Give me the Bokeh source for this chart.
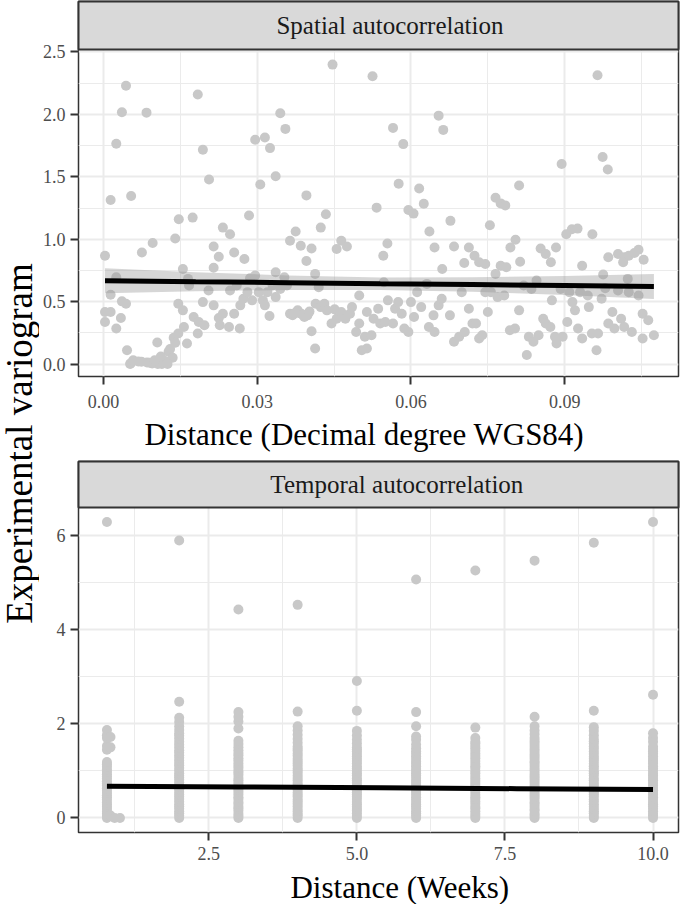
import math
from bokeh.plotting import figure
from bokeh.layouts import column, row
from bokeh.models import Range1d, FixedTicker, PrintfTickFormatter
from bokeh.core.properties import value
from bokeh.embed import file_html
from bokeh.resources import INLINE

FONT = "Liberation Serif"

# ---------------- data: spatial panel ----------------
spatial_dist = [
    0.0003, 0.0014, 0.0025, 0.0036, 0.0044, 0.0054, 0.0084, 0.0075, 0.0096, 0.0140,
    0.0147, 0.0174, 0.0184, 0.0194, 0.0206, 0.0215, 0.0215, 0.0225, 0.0233, 0.0247,
    0.0255, 0.0275, 0.0284, 0.0296, 0.0306, 0.0315, 0.0325, 0.0336, 0.0345, 0.0355,
    0.0364, 0.0375, 0.0385, 0.0396, 0.0396, 0.0406, 0.0413, 0.0424, 0.0434, 0.0447,
    0.0455, 0.0464, 0.0475, 0.0525, 0.0533, 0.0546, 0.0554, 0.0565, 0.0576, 0.0585,
    0.0595, 0.0605, 0.0616, 0.0625, 0.0636, 0.0646, 0.0654, 0.0663, 0.0661, 0.0677,
    0.0684, 0.0713, 0.0724, 0.0704, 0.0733, 0.0745, 0.0754, 0.0765, 0.0775, 0.0784,
    0.0794, 0.0804, 0.0811, 0.0813, 0.0775, 0.0786, 0.0853, 0.0863, 0.0873, 0.0883,
    0.0894, 0.0903, 0.0914, 0.0925, 0.0934, 0.0954, 0.0964, 0.0974, 0.0975, 0.0984,
    0.0985, 0.1004, 0.1016, 0.1025, 0.1036, 0.1044, 0.1054, 0.1014, 0.1023,
    0.0003, 0.0003, 0.0014, 0.0014, 0.0025, 0.0025, 0.0034, 0.0036, 0.0044, 0.0046,
    0.0053, 0.0074, 0.0085, 0.0095, 0.0105, 0.0106, 0.0114, 0.0120, 0.0127, 0.0135,
    0.0137, 0.0146, 0.0146, 0.0155, 0.0155, 0.0157, 0.0163, 0.0165, 0.0167, 0.0176,
    0.0184, 0.0186, 0.0194, 0.0197, 0.0205, 0.0215, 0.0225, 0.0227, 0.0233, 0.0245,
    0.0247, 0.0255, 0.0260, 0.0266, 0.0267, 0.0273, 0.0281, 0.0286, 0.0290, 0.0296,
    0.0303, 0.0311, 0.0315, 0.0320, 0.0324, 0.0330, 0.0336, 0.0336, 0.0345, 0.0353,
    0.0358, 0.0364, 0.0369, 0.0379, 0.0386, 0.0392, 0.0398, 0.0406, 0.0413, 0.0414,
    0.0420, 0.0424, 0.0431, 0.0436, 0.0445, 0.0451, 0.0455, 0.0464, 0.0472, 0.0481,
    0.0485, 0.0493, 0.0499, 0.0499, 0.0504, 0.0510, 0.0514, 0.0514, 0.0523, 0.0527,
    0.0536, 0.0540, 0.0547, 0.0550, 0.0555, 0.0565, 0.0569, 0.0575, 0.0582, 0.0587,
    0.0595, 0.0600, 0.0606, 0.0612, 0.0620, 0.0631, 0.0635, 0.0644, 0.0646, 0.0654,
    0.0660, 0.0676, 0.0684, 0.0694, 0.0699, 0.0705, 0.0713, 0.0720, 0.0727, 0.0733,
    0.0739, 0.0745, 0.0750, 0.0756, 0.0765, 0.0769, 0.0782, 0.0793, 0.0803, 0.0811,
    0.0820, 0.0826, 0.0830, 0.0835, 0.0839, 0.0845, 0.0849, 0.0858, 0.0863, 0.0872,
    0.0875, 0.0881, 0.0884, 0.0892, 0.0896, 0.0905, 0.0909, 0.0915, 0.0920, 0.0926,
    0.0930, 0.0934, 0.0945, 0.0947, 0.0953, 0.0962, 0.0965, 0.0972, 0.0979, 0.0985,
    0.0993, 0.0997, 0.1004, 0.1010, 0.1016, 0.1025, 0.1031, 0.1044, 0.1052, 0.1052,
    0.1063, 0.1074,
    0.0052, 0.0058, 0.0068, 0.0090, 0.0100, 0.0112, 0.0125, 0.0130, 0.0140, 0.0381,
    0.0389, 0.0402, 0.0372,
]
spatial_gamma = [
    0.868, 1.314, 1.765, 2.017, 2.229, 1.346, 2.014, 0.894, 0.969, 1.006,
    1.160, 1.173, 2.160, 1.717, 1.478, 0.942, 0.772, 0.860, 1.093, 1.040,
    0.894, 0.841, 1.190, 1.797, 1.438, 1.815, 1.730, 1.505, 2.009, 1.884,
    0.987, 1.062, 0.947, 1.351, 0.825, 0.926, 0.722, 1.093, 1.200, 2.399,
    0.921, 0.987, 0.942, 2.306, 1.253, 0.868, 0.966, 1.892, 1.444, 1.762,
    1.234, 1.205, 1.407, 1.284, 1.062, 0.934, 1.990, 1.876, 0.762, 1.147,
    0.942, 0.934, 0.868, 0.809, 0.815, 0.801, 1.112, 1.332, 1.287, 1.271,
    0.934, 0.995, 1.430, 0.820, 0.788, 0.775, 0.926, 0.881, 0.815, 0.934,
    1.603, 1.040, 1.080, 1.085, 0.788, 1.040, 2.314, 1.659, 0.717, 1.558,
    0.855, 0.881, 0.855, 0.868, 0.889, 0.916, 0.836, 0.815, 0.682,
    0.417, 0.337, 0.555, 0.417, 0.695, 0.284, 0.369, 0.502, 0.483, 0.111,
    0.005, 0.019, 0.013, 0.005, 0.172, 0.000, 0.000, 0.024, 0.098, 0.050,
    0.210, 0.244, 0.483, 0.762, 0.430, 0.297, 0.165, 0.682, 0.629, 0.377,
    0.244, 0.337, 0.496, 0.311, 0.589, 0.470, 0.369, 0.311, 0.403, 0.297,
    0.589, 0.403, 0.629, 0.284, 0.470, 0.523, 0.576, 0.687, 0.510, 0.709,
    0.576, 0.510, 0.470, 0.576, 0.385, 0.629, 0.536, 0.735, 0.602, 0.695,
    0.629, 0.403, 0.390, 0.430, 0.403, 0.377, 0.390, 0.263, 0.125, 0.483,
    0.616, 0.456, 0.483, 0.430, 0.324, 0.438, 0.363, 0.417, 0.363, 0.403,
    0.456, 0.257, 0.549, 0.324, 0.111, 0.218, 0.125, 0.417, 0.231, 0.363,
    0.443, 0.324, 0.655, 0.337, 0.510, 0.324, 0.443, 0.496, 0.403, 0.284,
    0.257, 0.496, 0.377, 0.576, 0.456, 0.642, 0.297, 0.390, 0.257, 0.470,
    0.523, 0.390, 0.178, 0.218, 0.576, 0.257, 0.443, 0.324, 0.324, 0.204,
    0.231, 0.576, 0.417, 0.576, 0.722, 0.536, 0.549, 0.271, 0.284, 0.430,
    0.629, 0.072, 0.218, 0.602, 0.178, 0.669, 0.231, 0.363, 0.324, 0.297,
    0.510, 0.218, 0.165, 0.602, 0.218, 0.337, 0.576, 0.496, 0.430, 0.284,
    0.576, 0.204, 0.549, 0.456, 0.244, 0.111, 0.244, 0.523, 0.608, 0.324,
    0.417, 0.284, 0.589, 0.363, 0.297, 0.576, 0.257, 0.549, 0.403, 0.204,
    0.350, 0.231,
    0.000, 0.030, 0.020, 0.010, 0.030, 0.060, 0.000, 0.120, 0.170, 0.410,
    0.395, 0.420, 0.405,
]

# fitted linear trend with 95% band (spatial)
sp_fit_x = [0.0003, 0.018, 0.036, 0.054, 0.072, 0.090, 0.1074]
sp_fit_y = [0.667, 0.659, 0.652, 0.644, 0.637, 0.629, 0.622]
sp_fit_lo = [0.567, 0.583, 0.594, 0.594, 0.579, 0.553, 0.520]
sp_fit_hi = [0.767, 0.735, 0.710, 0.694, 0.695, 0.705, 0.722]

# ---------------- data: temporal panel ----------------
temporal_lag = [0.78, 2, 3, 4, 5, 6, 7, 8, 9, 10]
temporal_gamma = [
    [0.0, 0.04, 0.09, 0.13, 0.19, 0.24, 0.28, 0.33, 0.39, 0.44, 0.48, 0.53, 0.58, 0.63,
     0.69, 0.73, 0.78, 0.84, 0.88, 0.93, 0.98, 1.03, 1.09, 1.14, 1.19, 1.45, 1.53, 1.70,
     1.76, 1.87, 6.29],
    [0.0, 0.05, 0.10, 0.14, 0.20, 0.25, 0.29, 0.35, 0.40, 0.45, 0.50, 0.55, 0.61, 0.66,
     0.70, 0.76, 0.81, 0.86, 0.90, 0.95, 1.01, 1.06, 1.12, 1.17, 1.22, 1.28, 1.33, 1.39,
     1.44, 1.50, 1.56, 1.62, 1.69, 1.75, 1.80, 1.87, 1.95, 2.04, 2.13, 2.47, 5.90],
    [0.0, 0.04, 0.09, 0.15, 0.20, 0.24, 0.30, 0.34, 0.40, 0.44, 0.50, 0.55, 0.60, 0.64,
     0.70, 0.75, 0.80, 0.85, 0.91, 0.96, 1.00, 1.06, 1.11, 1.16, 1.22, 1.27, 1.33, 1.38,
     1.44, 1.50, 1.57, 1.64, 1.90, 2.05, 2.15, 2.25, 4.43],
    [0.0, 0.05, 0.09, 0.14, 0.19, 0.25, 0.30, 0.35, 0.39, 0.45, 0.49, 0.54, 0.60, 0.65,
     0.70, 0.74, 0.80, 0.85, 0.90, 0.96, 1.01, 1.05, 1.11, 1.16, 1.21, 1.26, 1.32, 1.37,
     1.43, 1.47, 1.52, 1.60, 1.68, 1.77, 1.86, 1.95, 2.26, 4.53],
    [0.0, 0.04, 0.10, 0.15, 0.19, 0.24, 0.29, 0.34, 0.40, 0.45, 0.50, 0.54, 0.59, 0.65,
     0.69, 0.75, 0.80, 0.84, 0.90, 0.95, 1.00, 1.05, 1.10, 1.16, 1.21, 1.26, 1.31, 1.36,
     1.41, 1.46, 1.50, 1.58, 1.66, 1.75, 1.85, 2.28, 2.91],
    [0.0, 0.05, 0.10, 0.14, 0.20, 0.25, 0.29, 0.34, 0.39, 0.44, 0.50, 0.55, 0.59, 0.64,
     0.70, 0.75, 0.79, 0.85, 0.90, 0.95, 1.00, 1.04, 1.10, 1.15, 1.20, 1.26, 1.31, 1.37,
     1.42, 1.48, 1.56, 1.66, 1.73, 1.95, 2.25, 5.07],
    [0.0, 0.04, 0.09, 0.14, 0.20, 0.24, 0.30, 0.35, 0.40, 0.44, 0.49, 0.55, 0.60, 0.65,
     0.70, 0.74, 0.79, 0.84, 0.89, 0.95, 1.00, 1.06, 1.10, 1.15, 1.21, 1.27, 1.32, 1.37,
     1.43, 1.48, 1.53, 1.58, 1.62, 1.70, 1.92, 5.26],
    [0.0, 0.05, 0.09, 0.15, 0.19, 0.25, 0.30, 0.34, 0.40, 0.45, 0.49, 0.54, 0.60, 0.64,
     0.69, 0.75, 0.80, 0.85, 0.89, 0.94, 1.00, 1.05, 1.11, 1.16, 1.20, 1.26, 1.31, 1.36,
     1.42, 1.47, 1.53, 1.59, 1.64, 1.70, 1.78, 1.86, 1.95, 2.15, 5.47],
    [0.0, 0.04, 0.10, 0.14, 0.19, 0.24, 0.29, 0.35, 0.39, 0.45, 0.50, 0.54, 0.59, 0.65,
     0.70, 0.74, 0.80, 0.84, 0.90, 0.95, 0.99, 1.05, 1.10, 1.15, 1.21, 1.26, 1.30, 1.36,
     1.41, 1.47, 1.52, 1.58, 1.63, 1.68, 1.76, 1.85, 1.93, 2.28, 5.85],
    [0.0, 0.05, 0.09, 0.14, 0.20, 0.25, 0.29, 0.34, 0.40, 0.44, 0.50, 0.55, 0.59, 0.64,
     0.69, 0.74, 0.80, 0.85, 0.90, 0.94, 1.00, 1.05, 1.10, 1.16, 1.21, 1.26, 1.31, 1.37,
     1.42, 1.47, 1.52, 1.62, 1.70, 1.80, 2.62, 6.29],
]
temporal_extra_lag = [0.84, 0.84, 0.84, 0.91, 1.00]
temporal_extra_gamma = [1.50, 1.72, 0.05, 0.00, 0.00]

tm_fit_x = [0.78, 3.0, 5.4, 7.7, 10.0]
tm_fit_y = [0.674, 0.657, 0.639, 0.622, 0.604]
tm_fit_lo = [0.629, 0.627, 0.617, 0.592, 0.559]
tm_fit_hi = [0.719, 0.687, 0.661, 0.652, 0.649]

# ticks
sp_xticks = [0.0, 0.03, 0.06, 0.09]
sp_xminor = [0.015, 0.045, 0.075, 0.105]
sp_yticks = [0.0, 0.5, 1.0, 1.5, 2.0, 2.5]
sp_yminor = [0.25, 0.75, 1.25, 1.75, 2.25]
tm_xticks = [2.5, 5.0, 7.5, 10.0]
tm_xminor = [1.25, 3.75, 6.25, 8.75]
tm_yticks = [0, 2, 4, 6]
tm_yminor = [1, 3, 5]

# ---------------- layout constants ----------------
YT_W = 39        # width of the y-title column
W = 641          # width of panel column
LB = 36          # left border of panels
RB = 2
TOTAL_H = 904

POINT = "#C8C8C8"
DARK = "#333333"


def xtitle(label, height, xr, cx, cy):
    p = figure(width=W, height=height, x_range=xr, y_range=Range1d(height, 0),
               toolbar_location=None, output_backend="svg",
               x_axis_type=None, y_axis_type=None,
               min_border_left=LB, min_border_right=RB,
               min_border_top=0, min_border_bottom=0)
    p.grid.visible = False
    p.outline_line_color = None
    p.background_fill_color = "white"
    p.border_fill_color = "white"
    p.text(x=[cx], y=[cy], text=[label], text_align="center",
           text_baseline="middle", text_font=value(FONT),
           text_font_size="31px", text_color="black")
    return p


def panel(strip_h, panel_h, bottom, xlim, ylim, xt, xm, yt, ym, xfmt, yfmt,
          label, label_x, xstand):
    per_px = (ylim[1] - ylim[0]) / panel_h
    ytop = ylim[1] + strip_h * per_px
    p = figure(width=W, height=1 + strip_h + panel_h + bottom,
               x_range=Range1d(*xlim), y_range=Range1d(ylim[0], ytop),
               toolbar_location=None, output_backend="svg",
               min_border_left=LB, min_border_right=RB,
               min_border_top=1, min_border_bottom=bottom)
    p.background_fill_color = "white"
    p.border_fill_color = "white"
    p.outline_line_color = DARK
    p.outline_line_width = 1.5
    p.xaxis.ticker = FixedTicker(ticks=xt, minor_ticks=xm)
    p.yaxis.ticker = FixedTicker(ticks=yt, minor_ticks=ym)
    p.xgrid.ticker = FixedTicker(ticks=xt, minor_ticks=xm)
    p.ygrid.ticker = FixedTicker(ticks=yt, minor_ticks=ym)
    p.xaxis.formatter = PrintfTickFormatter(format=xfmt)
    p.yaxis.formatter = PrintfTickFormatter(format=yfmt)
    for g in (p.xgrid, p.ygrid):
        g.grid_line_color = "#EBEBEB"
        g.grid_line_width = 2
        g.minor_grid_line_color = "#EBEBEB"
        g.minor_grid_line_width = 1
    for a in (p.xaxis, p.yaxis):
        a.axis_line_color = None
        a.major_tick_line_color = DARK
        a.major_tick_line_width = 2
        a.major_tick_out = 8
        a.major_tick_in = 0
        a.minor_tick_out = 0
        a.minor_tick_in = 0
        a.major_label_text_font = FONT
        a.major_label_text_font_size = "18px"
        a.major_label_text_color = "#4D4D4D"
    p.xaxis.major_label_standoff = xstand
    p.yaxis.major_label_standoff = 5
    # facet strip on top of the panel
    p.quad(left=[xlim[0]], right=[xlim[1]], bottom=[ylim[1]], top=[ytop],
           fill_color="#D9D9D9", line_color=DARK, line_width=2, level="overlay")
    p.text(x=[label_x], y=[(ylim[1] + ytop) / 2], text=[label], text_align="center",
           text_baseline="middle", text_font=value(FONT),
           text_font_size="25px", text_color="#1A1A1A", level="overlay")
    return p


# y-axis title column (pixel coordinates, y downward)
ytitle = figure(width=YT_W, height=TOTAL_H, x_range=Range1d(0, YT_W),
                y_range=Range1d(TOTAL_H, 0),
                toolbar_location=None, output_backend="svg",
                x_axis_type=None, y_axis_type=None,
                min_border_left=0, min_border_right=0, min_border_top=0, min_border_bottom=0)
ytitle.grid.visible = False
ytitle.outline_line_color = None
ytitle.text(x=[18.5], y=[443], text=["Experimental variogram"], angle=math.pi / 2,
            text_align="center", text_baseline="middle",
            text_font=value(FONT), text_font_size="37px", text_color="black")

# spatial panel (416 px tall)
p1 = panel(48, 327, 40, (-0.00487, 0.1122), (-0.10, 2.52),
           sp_xticks, sp_xminor, sp_yticks, sp_yminor, "%.2f", "%.1f",
           "Spatial autocorrelation", 0.0559, 10)
p1.scatter(x=spatial_dist, y=spatial_gamma, size=10, fill_color=POINT, line_color=None)
p1.varea(x=sp_fit_x, y1=sp_fit_lo, y2=sp_fit_hi, fill_color="#999999", fill_alpha=0.4)
p1.line(x=sp_fit_x, y=sp_fit_y, line_color="black", line_width=5)
t1 = xtitle("Distance (Decimal degree WGS84)", 44, p1.x_range, 0.0509, 18)

# temporal panel (408 px tall)
tx, ty = [], []
for lag, vals in zip(temporal_lag, temporal_gamma):
    tx.extend([lag] * len(vals))
    ty.extend(vals)
tx.extend(temporal_extra_lag)
ty.extend(temporal_extra_gamma)

p2 = panel(46, 325, 36, (0.30, 10.43), (-0.31, 6.60),
           tm_xticks, tm_xminor, tm_yticks, tm_yminor, "%.1f", "%d",
           "Temporal autocorrelation", 5.675, 6)
p2.scatter(x=tx, y=ty, size=10, fill_color=POINT, line_color=None)
p2.varea(x=tm_fit_x, y1=tm_fit_lo, y2=tm_fit_hi, fill_color="#999999", fill_alpha=0.4)
p2.line(x=tm_fit_x, y=tm_fit_y, line_color="black", line_width=5)
t2 = xtitle("Distance (Weeks)", 36, p2.x_range, 5.725, 19)

layout = row(ytitle, column(p1, t1, p2, t2))

open("out.html", "w").write(file_html(layout, INLINE))
